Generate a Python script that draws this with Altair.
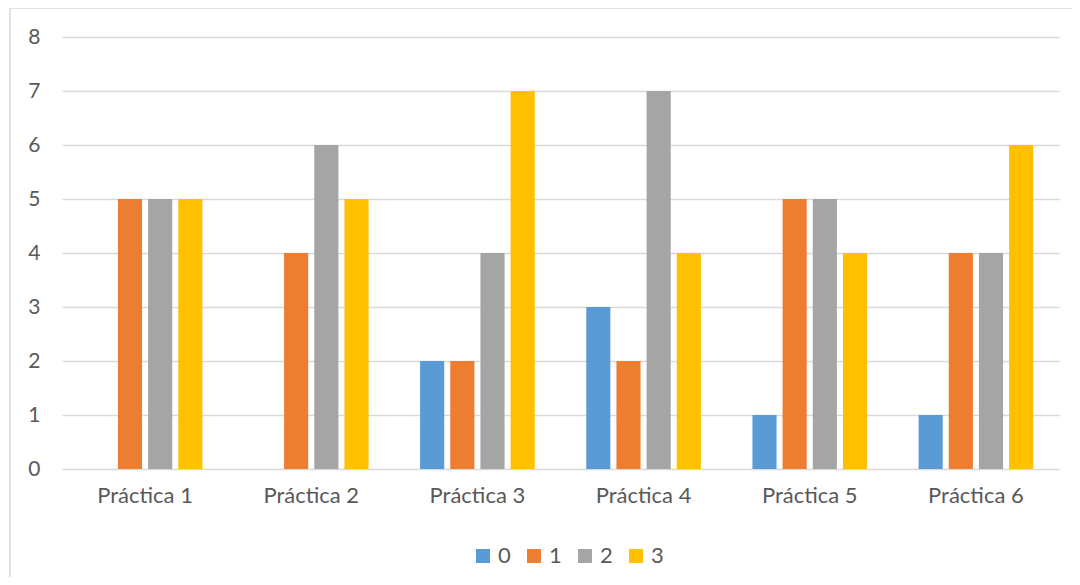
import altair as alt
import pandas as pd

categories = ["Práctica 1", "Práctica 2", "Práctica 3", "Práctica 4", "Práctica 5", "Práctica 6"]
series = ["0", "1", "2", "3"]
values_0 = [0, 0, 2, 3, 1, 1]
values_1 = [5, 4, 2, 2, 5, 4]
values_2 = [5, 6, 4, 7, 5, 4]
values_3 = [5, 5, 7, 4, 4, 6]
colors = ["#5B9BD5", "#ED7D31", "#A5A5A5", "#FFC000"]

rows = []
for s, vals in zip(series, [values_0, values_1, values_2, values_3]):
    for c, v in zip(categories, vals):
        rows.append({"cat": c, "serie": s, "valor": v})
df = pd.DataFrame(rows)

FONT = "Lato"
TXT = "#595959"

bars = alt.Chart(df).mark_bar().encode(
    x=alt.X("cat:N", sort=categories, title=None,
            scale=alt.Scale(paddingInner=0.31, paddingOuter=0.155),
            axis=alt.Axis(labelAngle=0, ticks=False, domain=False, labelPadding=16,
                          labelFontSize=22, labelColor=TXT, labelFont=FONT, grid=False)),
    xOffset=alt.XOffset("serie:N", sort=series,
                        scale=alt.Scale(paddingInner=0.2, paddingOuter=0)),
    y=alt.Y("valor:Q", title=None,
            scale=alt.Scale(domain=[0, 8]),
            axis=alt.Axis(values=list(range(0, 9)), ticks=False, domain=False, labelPadding=22,
                          labelFontSize=21, labelColor=TXT, labelFont=FONT,
                          gridColor="#d9d9d9", gridWidth=1.3)),
    color=alt.Color("serie:N", sort=series,
                    scale=alt.Scale(domain=series, range=colors),
                    legend=alt.Legend(title=None, orient="none", direction="horizontal",
                                      legendX=410, legendY=508,
                                      symbolType="square", symbolSize=196,
                                      symbolStrokeWidth=0, labelFontSize=22,
                                      labelColor=TXT, labelFont=FONT,
                                      labelOffset=4, columnPadding=12)),
)

frame = alt.Chart(alt.Data(values=[{"a": 1}])).mark_rect(
    fillOpacity=0, stroke="#d9d9d9", strokeWidth=1.5
).encode(
    x=alt.value(-52), x2=alt.value(2000), y=alt.value(-29), y2=alt.value(1000)
)

chart = alt.layer(frame, bars).properties(
    width=997, height=432,
    autosize=alt.AutoSizeParams(type="none"),
    padding={"left": 54, "top": 29, "right": 13, "bottom": 108},
    view=alt.ViewBackground(strokeOpacity=0, strokeWidth=0),
).configure_view(strokeOpacity=0, strokeWidth=0).configure(background="white")

chart.save("out.html", embed_options={"renderer": "svg", "actions": False})
